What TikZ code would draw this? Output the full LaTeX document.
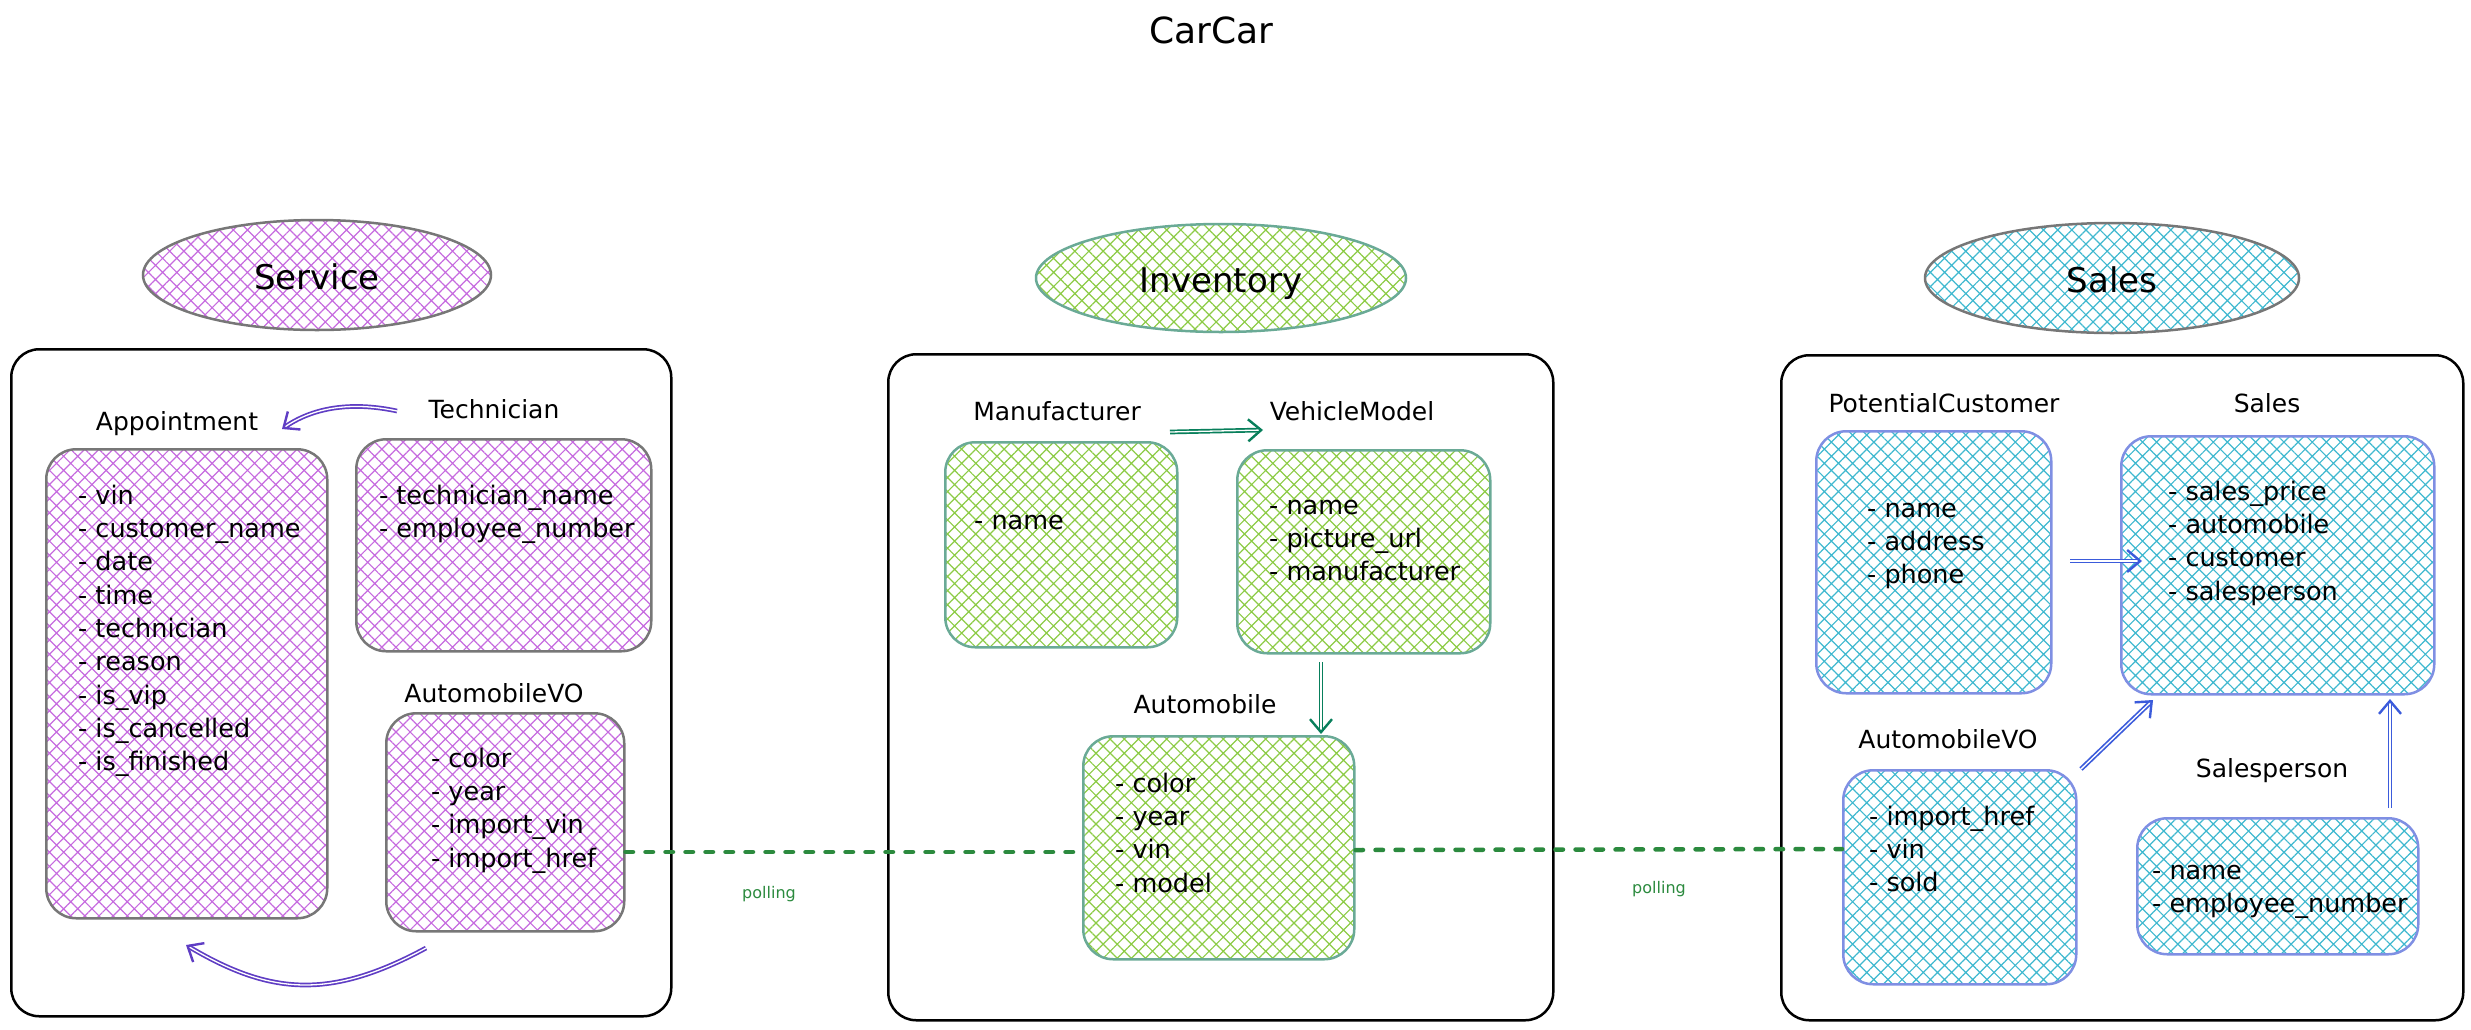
\documentclass[tikz,border=0pt]{standalone}
\usepackage{fontspec}
\setmainfont{DejaVu Sans}
\usetikzlibrary{patterns.meta,arrows.meta,shapes.geometric}
\definecolor{svcfill}{HTML}{C66BDF}
\definecolor{svcstroke}{HTML}{777777}
\definecolor{invfill}{HTML}{8CCB45}
\definecolor{invstroke}{HTML}{6AAA96}
\definecolor{salfill}{HTML}{3FB8CF}
\definecolor{salstroke}{HTML}{7F8FE3}
\definecolor{violetarrow}{HTML}{5F3DC4}
\definecolor{greenarrow}{HTML}{087F5B}
\definecolor{bluearrow}{HTML}{3B5BDB}
\definecolor{polgreen}{HTML}{2B8A3E}
\tikzset{
  outerbox/.style={draw=black, line width=2.5pt, rounded corners=28pt, anchor=north west, inner sep=0pt},
  ent/.style={line width=2.5pt, rounded corners=30pt, anchor=north west, inner sep=0pt},
  hatchfill/.style={pattern={Hatch[distance=10pt,angle=45,line width=1.2pt]}, pattern color=#1},
  svcbox/.style={ent, draw=svcstroke, hatchfill=svcfill},
  invbox/.style={ent, draw=invstroke, hatchfill=invfill},
  salbox/.style={ent, draw=salstroke, hatchfill=salfill},
  ell/.style={ellipse, line width=2.5pt, inner sep=0pt, text height=28pt, text depth=0pt,
              font=\fontsize{34}{40}\selectfont},
  items/.style={anchor=north west, inner sep=0pt, align=left, font=\fontsize{25.5}{33.3}\selectfont},
  lbl/.style={anchor=base, inner sep=0pt, font=\fontsize{25}{30}\selectfont},
  arr/.style={double=white, double distance=1.3pt, line width=1.7pt, draw=#1,
              -{Straight Barb[length=13pt,width=22pt,line width=2.4pt]}},
  dashedge/.style={draw=polgreen, line width=4.5pt, line cap=round, dash pattern=on 7.5pt off 12.5pt},
  pol/.style={anchor=base, inner sep=0pt, text=polgreen, font=\fontsize{16}{19}\selectfont},
}
\begin{document}
\begin{tikzpicture}[x=1pt, y=-1pt]
\useasboundingbox (0,0) rectangle (2471,1029);

% title
\node[anchor=base, inner sep=0pt, font=\fontsize{36}{42}\selectfont] (title) at (1211,43) {CarCar};

% ellipses
\node[ell, draw=svcstroke, hatchfill=svcfill, minimum width=348pt, minimum height=110pt] (svcell) at (317,275) {Service};
\node[ell, draw=invstroke, hatchfill=invfill, minimum width=370pt, minimum height=108pt] (invell) at (1221,278) {Inventory};
\node[ell, draw=svcstroke, hatchfill=salfill, minimum width=374pt, minimum height=110pt] (salell) at (2112,278) {Sales};

% outer boxes
\node[outerbox, minimum width=660pt, minimum height=667pt] (svcouter) at (10,348) {};
\node[outerbox, minimum width=665pt, minimum height=666pt] (invouter) at (887,353) {};
\node[outerbox, minimum width=682pt, minimum height=665pt] (salouter) at (1780,354) {};

% ===== Service =====
\node[svcbox, minimum width=281pt, minimum height=469pt] (appt) at (45,448) {};
\node[svcbox, minimum width=295pt, minimum height=212pt] (tech) at (355,438) {};
\node[svcbox, minimum width=238pt, minimum height=218pt] (svcvo) at (385,712) {};

\node[lbl] (apptlbl) at (177,430) {Appointment};
\node[lbl] (techlbl) at (494,418) {Technician};
\node[lbl] (svcvolbl) at (494,702) {AutomobileVO};

\node[items] (appttxt) at (78,480.7) {\strut- vin\\- customer\_name\\- date\\- time\\- technician\\- reason\\- is\_vip\\- is\_cancelled\\- is\_finished};
\node[items] (techtxt) at (379,480.7) {\strut- technician\_name\\- employee\_number};
\node[items] (svcvotxt) at (431,743.7) {\strut- color\\- year\\- import\_vin\\- import\_href};

% ===== Inventory =====
\node[invbox, minimum width=232pt, minimum height=205pt] (manuf) at (944,441) {};
\node[invbox, minimum width=253pt, minimum height=203pt] (vmodel) at (1236,449) {};
\node[invbox, minimum width=271pt, minimum height=223pt] (auto) at (1082,735) {};

\node[lbl] (manuflbl) at (1057,420) {Manufacturer};
\node[lbl] (vmodellbl) at (1352,420) {VehicleModel};
\node[lbl] (autolbl) at (1205,713) {Automobile};

\node[items] (manuftxt) at (974,505.7) {\strut- name};
\node[items] (vmodeltxt) at (1269,490.7) {\strut- name\\- picture\_url\\- manufacturer};
\node[items] (autotxt) at (1115,768.7) {\strut- color\\- year\\- vin\\- model};

% ===== Sales =====
\node[salbox, minimum width=235pt, minimum height=262pt] (pcust) at (1815,430) {};
\node[salbox, minimum width=313pt, minimum height=258pt] (sales) at (2120,435) {};
\node[salbox, minimum width=233pt, minimum height=214pt] (salvo) at (1842,769) {};
\node[salbox, minimum width=281pt, minimum height=136pt] (sperson) at (2136,817) {};

\node[lbl] (pcustlbl) at (1944,412) {PotentialCustomer};
\node[lbl] (saleslbl) at (2267,412) {Sales};
\node[lbl] (salvolbl) at (1948,748) {AutomobileVO};
\node[lbl] (spersonlbl) at (2272,777) {Salesperson};

\node[items] (pcusttxt) at (1867,493.7) {\strut- name\\- address\\- phone};
\node[items] (salestxt) at (2168,476.7) {\strut- sales\_price\\- automobile\\- customer\\- salesperson};
\node[items] (salvotxt) at (1869,801.7) {\strut- import\_href\\- vin\\- sold};
\node[items] (spersontxt) at (2152,855.7) {\strut- name\\- employee\_number};

% ===== arrow end points =====
\coordinate (t2aS) at (397,411);
\coordinate (t2aE) at (282,429);
\coordinate (v2aS) at (426,948);
\coordinate (v2aE) at (186,945);
\coordinate (m2vS) at (1170,432);
\coordinate (m2vE) at (1263,430);
\coordinate (v2autS) at (1321,662);
\coordinate (v2autE) at (1321,734);
\coordinate (p2sS) at (2070,561);
\coordinate (p2sE) at (2142,561);
\coordinate (avo2sS) at (2081,769);
\coordinate (avo2sE) at (2153,700);
\coordinate (sp2sS) at (2390,808);
\coordinate (sp2sE) at (2390,699);

% arrows
\draw[arr=violetarrow] (t2aS) .. controls (350,401) and (312,408) .. (t2aE);
\draw[arr=violetarrow] (v2aS) .. controls (330,1000) and (270,995) .. (v2aE);
\draw[arr=greenarrow] (m2vS) -- (m2vE);
\draw[arr=greenarrow] (v2autS) -- (v2autE);
\draw[arr=bluearrow] (p2sS) -- (p2sE);
\draw[arr=bluearrow] (avo2sS) -- (avo2sE);
\draw[arr=bluearrow] (sp2sS) -- (sp2sE);

% polling connections
\draw[dashedge] (svcvo.east |- 0,852) -- (auto.west |- 0,852);
\draw[dashedge] (auto.east |- 0,850) -- (salvo.west |- 0,849);
\node[pol] (pol1) at (769,898) {polling};
\node[pol] (pol2) at (1659,893) {polling};
\end{tikzpicture}
\end{document}
